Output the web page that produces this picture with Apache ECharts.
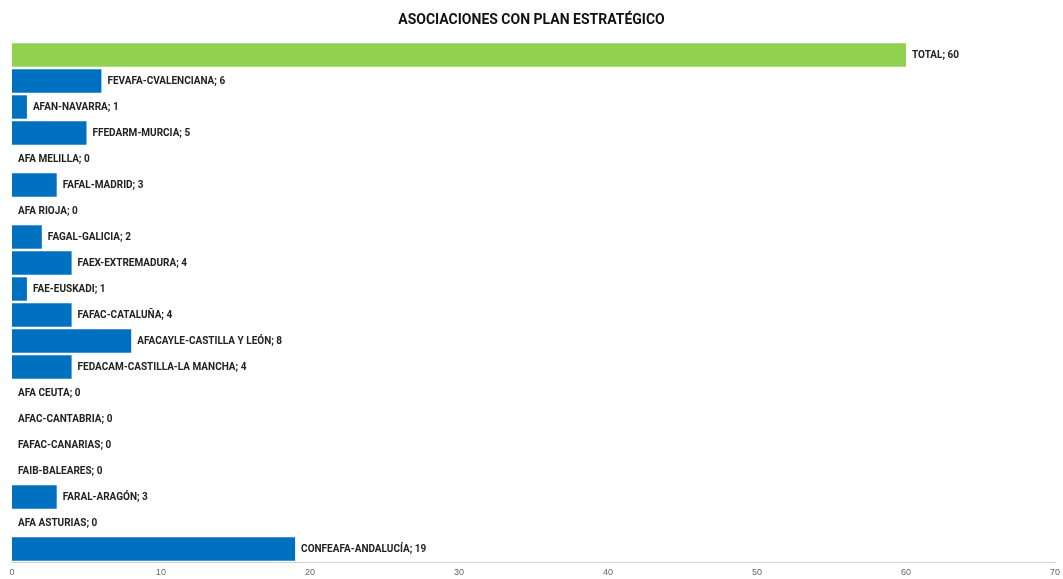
<!DOCTYPE html>
<html><head><meta charset="utf-8">
<script src="https://cdn.jsdelivr.net/npm/echarts@6/dist/echarts.min.js"></script>
<style>html,body{margin:0;padding:0;background:#fff}#c{width:1063px;height:579px}</style>
</head><body><div id="c"></div>
<script>
// categories bottom -> top
const categories = ["CONFEAFA-ANDALUCÍA","AFA ASTURIAS","FARAL-ARAGÓN","FAIB-BALEARES","FAFAC-CANARIAS","AFAC-CANTABRIA","AFA CEUTA","FEDACAM-CASTILLA-LA MANCHA","AFACAYLE-CASTILLA Y LEÓN","FAFAC-CATALUÑA","FAE-EUSKADI","FAEX-EXTREMADURA","FAGAL-GALICIA","AFA RIOJA","FAFAL-MADRID","AFA MELILLA","FFEDARM-MURCIA","AFAN-NAVARRA","FEVAFA-CVALENCIANA","TOTAL"];
const values = [19,0,3,0,0,0,0,4,8,4,1,4,2,0,3,0,5,1,6,60];
const xTicks = [0,10,20,30,40,50,60,70];

const chart = echarts.init(document.getElementById('c'));
chart.setOption({
  animation:false,
  title:{text:'ASOCIACIONES CON PLAN ESTRATÉGICO',left:'center',top:8,
    textStyle:{fontFamily:'Liberation Sans Narrow, Roboto, sans-serif',fontSize:14,fontWeight:'bold',color:'#111'}},
  grid:{left:12,right:7,top:42,bottom:17},
  xAxis:{type:'value',min:xTicks[0],max:xTicks[xTicks.length-1],interval:10,
    splitLine:{show:false},
    axisLine:{show:true,lineStyle:{color:'#d0d0d0'}},axisTick:{show:false},
    axisLabel:{color:'#666',fontSize:9,margin:6,fontFamily:'Liberation Sans Narrow, sans-serif'}},
  yAxis:{type:'category',data:categories,axisLine:{show:false},axisTick:{show:false},axisLabel:{show:false}},
  series:[{type:'bar',data:values.map((v,i)=>({value:v,itemStyle:{color:categories[i]==='TOTAL'?'#92D050':'#0070C0'}})),
    barCategoryGap:'10%',
    label:{show:true,position:'right',distance:6,formatter:p=>p.name+'; '+p.value,
      color:'#222',fontSize:10,fontWeight:'bold',fontFamily:'Liberation Sans Narrow, Roboto, sans-serif'}}]
});
</script></body></html>
